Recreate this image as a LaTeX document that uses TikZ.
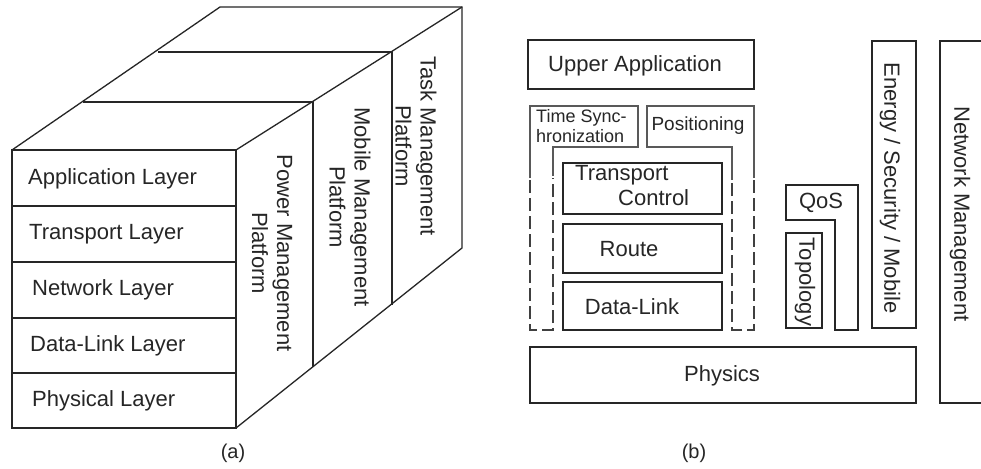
\documentclass[tikz,border=0pt]{standalone}
\usepackage{fontspec}
\setmainfont{Liberation Sans}
\begin{document}
\begin{tikzpicture}[x=1pt,y=-1pt,
  ln/.style={draw=black!85,line width=1.3pt},
  fr/.style={draw=black!65,line width=1.3pt},
  dsh/.style={draw=black!75,line width=1.3pt,dash pattern=on 13pt off 5pt},
  txt/.style={font=\fontsize{22}{25}\selectfont,text=black!85,inner sep=0pt},
  stxt/.style={font=\fontsize{18}{20}\selectfont,text=black!85,inner sep=0pt},
  rot/.style={txt,rotate=-90,align=center}]
\clip (0,0) rectangle (981,468);
\fill[white] (0,0) rectangle (981,468);

% ---------- (a) ----------
\coordinate (fl) at (12,150);
\coordinate (fr) at (236,150);
\coordinate (br) at (236,428);
\coordinate (tl) at (220,7);
\coordinate (tr) at (462,7);
\coordinate (bb) at (462,248);
\draw[ln] (fl) rectangle (br);
\foreach \y in {206,262,318,373} \draw[ln] (12,\y) -- (236,\y);
\draw[ln] (fl) -- (tl) -- (tr) -- (bb) -- (br);
\draw[ln] (fr) -- (tr);
\draw[ln] (83,102) -- (313,102) -- (313,367);
\draw[ln] (158,52) -- (392,52) -- (392,305);

\node[txt,anchor=west] (l1) at (28,179) {Application Layer};
\node[txt,anchor=west] (l2) at (29,234) {Transport Layer};
\node[txt,anchor=west] (l3) at (32,290) {Network Layer};
\node[txt,anchor=west] (l4) at (30,346) {Data-Link Layer};
\node[txt,anchor=west] (l5) at (32,401) {Physical Layer};

\node[rot] (pm) at (272,253) {Power Management\\Platform};
\node[rot] (mm) at (350,207) {Mobile Management\\Platform};
\node[rot] (tm) at (416,146) {Task Management\\Platform};

\node[txt,font=\fontsize{20}{24}\selectfont] (ca) at (233,453) {(a)};

% ---------- (b) ----------
\node[ln,minimum width=226pt,minimum height=49pt,inner sep=0pt] (ua) at (641,64.5) {};
\node[txt] at (635,66) {Upper Application};

% left frame (time synchronization)
\draw[fr] (530,178) -- (530,106) -- (638,106) -- (638,147) -- (553,147) -- (553,176);
\draw[dsh] (530,180) -- (530,330) -- (553,330) -- (553,178);
\node[stxt,align=left,anchor=west] (ts) at (536,126) {Time Sync-\\hronization};

% right frame (positioning)
\draw[fr] (754,178) -- (754,106) -- (647,106) -- (647,147) -- (732,147) -- (732,180);
\draw[dsh] (754,180) -- (754,330) -- (732,330) -- (732,182);
\node[txt,font=\fontsize{19}{22}\selectfont] (po) at (698,126) {Positioning};

% inner stack
\node[ln,minimum width=159pt,minimum height=51pt,inner sep=0pt] (tc) at (642.5,188.5) {};
\node[txt,align=left,anchor=north west] at (575,165) {Transport\\\hspace*{43pt}Control};
\node[ln,minimum width=159pt,minimum height=49pt,inner sep=0pt] (ro) at (642.5,248.5) {};
\node[txt] at (629,249) {Route};
\node[ln,minimum width=159pt,minimum height=48pt,inner sep=0pt] (dl) at (642.5,306) {};
\node[txt] at (632,307) {Data-Link};

% physics
\node[ln,minimum width=386pt,minimum height=56pt,inner sep=0pt] (ph) at (723,375) {};
\node[txt] at (722,376) {Physics};

% QoS / Topology
\draw[ln] (786,185) -- (858,185) -- (858,330) -- (835,330) -- (835,220) -- (786,220) -- cycle;
\node[txt] (qos) at (821,203) {QoS};
\node[ln,minimum width=36pt,minimum height=95pt,inner sep=0pt] (tp) at (804,280.5) {};
\node[rot] at (805,282) {Topology};

% Energy / Security / Mobile
\node[ln,minimum width=44pt,minimum height=287pt,inner sep=0pt] (en) at (894,184.5) {};
\node[rot] at (890,188) {Energy / Security / Mobile};

% Network Management
\draw[ln] (995,41) -- (940,41) -- (940,403) -- (995,403);
\node[rot] (nm) at (960,214) {Network Management};

\node[txt,font=\fontsize{20}{24}\selectfont] (cb) at (694,453) {(b)};
\end{tikzpicture}
\end{document}
